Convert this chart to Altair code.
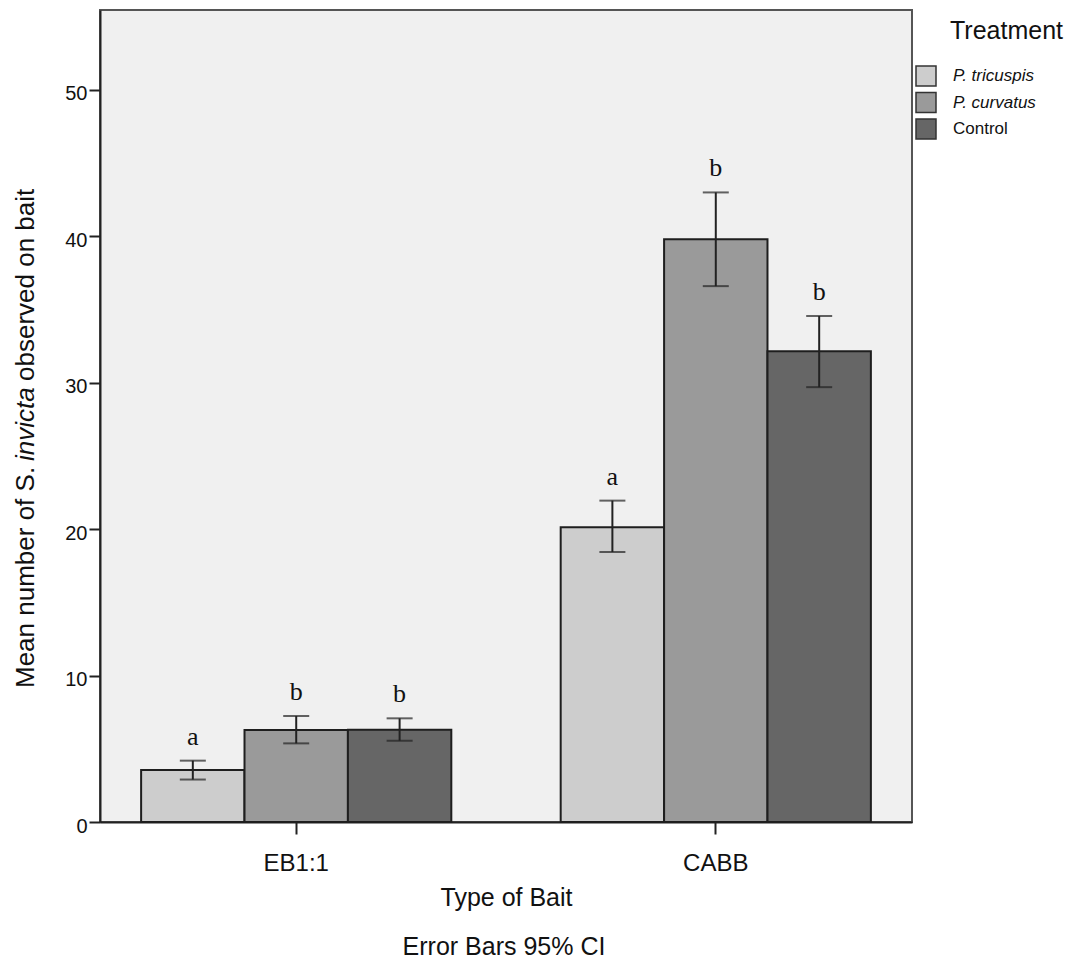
import altair as alt
import pandas as pd

# Mean counts with 95% CI per bait type and treatment
bait = ["EB1:1", "EB1:1", "EB1:1", "CABB", "CABB", "CABB"]
treatment = ["P. tricuspis", "P. curvatus", "Control"] * 2
mean = [3.55, 6.28, 6.30, 20.13, 39.80, 32.15]
ci_low = [2.90, 5.37, 5.55, 18.44, 36.60, 29.70]
ci_high = [4.19, 7.24, 7.08, 21.95, 43.00, 34.56]
letters = ["a", "b", "b", "a", "b", "b"]

bait_order = ["EB1:1", "CABB"]
treat_order = ["P. tricuspis", "P. curvatus", "Control"]
treat_colors = ["#cdcdcd", "#9a9a9a", "#666666"]
y_ticks = [0, 10, 20, 30, 40, 50]

df = pd.DataFrame({
    "bait": bait, "treatment": treatment, "mean": mean,
    "lo": ci_low, "hi": ci_high, "letter": letters,
})

W, H = 812, 812
SANS = "Liberation Sans"
SERIF = "Liberation Serif"

x_enc = alt.X(
    "bait:N", sort=bait_order,
    scale=alt.Scale(paddingInner=0.2607, paddingOuter=0.098),
    axis=alt.Axis(
        title="Type of Bait", titleFontSize=25, titleFont=SANS,
        titleFontWeight="normal", titleColor="#111", titleY=83,
        titleBaseline="alphabetic",
        labelAngle=0, labelFontSize=24, labelFont=SANS, labelColor="#111",
        labelPadding=17, tickSize=12, tickWidth=2, tickColor="#222",
        domainColor="#222", domainWidth=2,
    ),
)
xo_enc = alt.XOffset("treatment:N", sort=treat_order,
                     scale=alt.Scale(paddingInner=0, paddingOuter=0))
y_scale = alt.Scale(domain=[0, 55.46], nice=False, zero=True)

base = alt.Chart(df)

bars = base.mark_bar(stroke="#1e1e1e", strokeWidth=2).encode(
    x=x_enc,
    xOffset=xo_enc,
    y=alt.Y(
        "mean:Q", scale=y_scale,
        axis=alt.Axis(
            title=None, values=y_ticks, grid=False,
            labelFontSize=20, labelFont=SANS, labelColor="#111",
            labelPadding=2, labelOffset=4,
            tickSize=11, tickWidth=2, tickColor="#222",
            domainColor="#222", domainWidth=2,
        ),
    ),
    color=alt.Color(
        "treatment:N", sort=treat_order,
        scale=alt.Scale(domain=treat_order, range=treat_colors),
        legend=alt.Legend(
            title=None, orient="none", legendX=815, legendY=55,
            symbolType="square", symbolSize=400,
            symbolStrokeColor="#333", symbolStrokeWidth=1.5,
            labelFontSize=17, labelFont=SANS, labelColor="#111",
            labelFontStyle={"expr": "datum.label == 'Control' ? 'normal' : 'italic'"},
            labelOffset=16, rowPadding=0.5, padding=0,
        ),
    ),
)

err = base.mark_rule(color="#222", strokeWidth=2).encode(
    x=alt.X("bait:N", sort=bait_order),
    xOffset=xo_enc,
    y=alt.Y("lo:Q", scale=y_scale),
    y2="hi:Q",
)
cap_hi = base.mark_tick(color="#222", thickness=2, size=26, orient="horizontal").encode(
    x=alt.X("bait:N", sort=bait_order), xOffset=xo_enc,
    y=alt.Y("hi:Q", scale=y_scale),
)
cap_lo = base.mark_tick(color="#222", thickness=2, size=26, orient="horizontal").encode(
    x=alt.X("bait:N", sort=bait_order), xOffset=xo_enc,
    y=alt.Y("lo:Q", scale=y_scale),
)
sig = base.mark_text(font=SERIF, fontSize=26, color="#111",
                     baseline="alphabetic", dy=-16).encode(
    x=alt.X("bait:N", sort=bait_order), xOffset=xo_enc,
    y=alt.Y("hi:Q", scale=y_scale),
    text="letter:N",
)


# y-axis title, written in three runs so the species name is italic
def title_run(text, ypos, style):
    return alt.Chart(pd.DataFrame({"t": [text]})).mark_text(
        font=SANS, fontSize=26, color="#111", angle=270, fontStyle=style,
        align="left", baseline="alphabetic",
    ).encode(x=alt.value(-66), y=alt.value(ypos), text="t:N")


ytitle = [
    title_run("Mean number of S.", 678, "normal"),
    title_run("invicta", 451, "italic"),
    title_run("observed on bait", 371, "normal"),
]

legend_title = alt.Chart(pd.DataFrame({"t": ["Treatment"]})).mark_text(
    font=SANS, fontSize=25, color="#111", align="left", baseline="alphabetic",
).encode(x=alt.value(850), y=alt.value(29), text="t:N")

caption = alt.Chart(pd.DataFrame({"t": ["Error Bars 95% CI"]})).mark_text(
    font=SANS, fontSize=25, color="#111", align="center", baseline="alphabetic",
).encode(x=alt.value(404), y=alt.value(945), text="t:N")

chart = alt.layer(bars, err, cap_hi, cap_lo, sig, *ytitle, legend_title, caption).properties(
    width=W, height=H,
    autosize=alt.AutoSizeParams(type="none"),
    padding={"left": 100, "top": 10, "right": 159, "bottom": 139},
    background="white",
).configure_view(
    fill="#f0f0f0", stroke="#555", strokeWidth=2,
)

chart.save("out.html", embed_options={"renderer": "svg", "actions": False})
